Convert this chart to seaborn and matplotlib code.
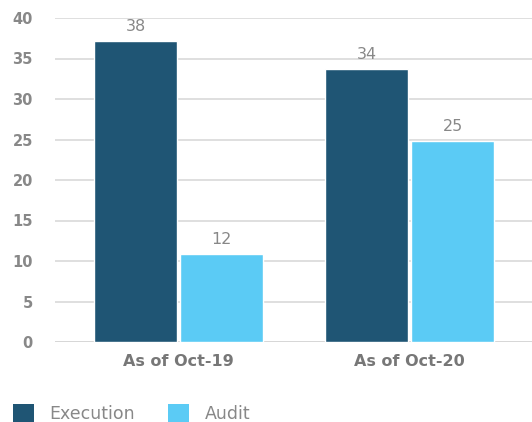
import pandas as pd
import matplotlib.pyplot as plt
import seaborn as sns
from matplotlib.patches import Patch

# Valores (altura das barras) e os rótulos impressos
periods = ["As of Oct-19", "As of Oct-20"]
execution = [37.2, 33.7]
audit = [10.9, 24.85]
execution_labels = ["38", "34"]
audit_labels = ["12", "25"]

series = ["Execution", "Audit"]
colors = {"Execution": "#1f5574", "Audit": "#5bcbf5"}

data = pd.DataFrame({
    "Period": periods * 2,
    "Series": ["Execution"] * len(periods) + ["Audit"] * len(periods),
    "Value": execution + audit,
})

sns.set_style("white")
plt.rcParams['font.family'] = ['DejaVu Sans']

fig = plt.figure(figsize=(5.32, 4.22), dpi=100)
ax = fig.add_axes([55 / 532, 1 - 342 / 422, 1 - 55 / 532, (342 - 18) / 422])

sns.barplot(data=data, x="Period", y="Value", hue="Series", hue_order=series,
            palette=colors, width=0.745, gap=0.04, ax=ax, legend=False,
            saturation=1)

# rótulos de valor
for container, labels in zip(ax.containers, [execution_labels, audit_labels]):
    ax.bar_label(container, labels=labels, padding=5, color="#888888",
                 fontsize=11.5)

ax.set_ylim(0, 40)
ax.set_xlim(-0.535, 1.53)
ax.set_yticks(range(0, 41, 5))
ax.yaxis.grid(True, color="#d9d9d9", linewidth=1.2)
ax.set_axisbelow(True)
for s in ax.spines.values():
    s.set_visible(False)
ax.axhline(0, color="#d0d0d0", linewidth=1.4, zorder=0)
ax.set_xlabel("")
ax.set_ylabel("")
ax.tick_params(axis="y", length=0, pad=16, labelsize=10.5, labelcolor="#888888")
ax.tick_params(axis="x", length=0, pad=9, labelsize=11.5, labelcolor="#777777")
for t in ax.get_yticklabels():
    t.set_fontweight("bold")
for t in ax.get_xticklabels():
    t.set_fontweight("bold")

handles = [Patch(facecolor=colors[s], edgecolor="none") for s in series]
fig.legend(handles, series, loc="lower left", bbox_to_anchor=(0.005, -0.027),
           ncol=2, frameon=False, fontsize=12.5, labelcolor="#888888",
           handlelength=1.2, handleheight=1.2, handletextpad=0.9,
           columnspacing=1.9, borderaxespad=0.2)

fig.savefig("out.png", dpi=100)
